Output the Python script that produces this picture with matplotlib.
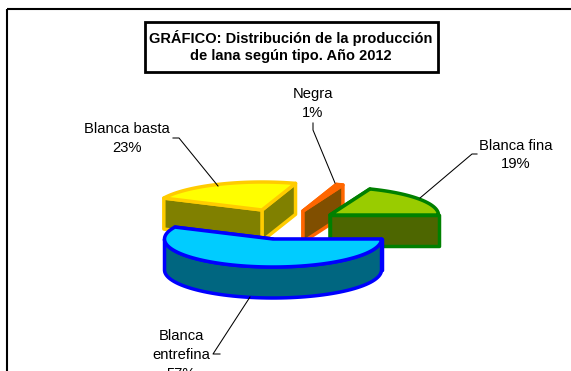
import numpy as np
import matplotlib
matplotlib.use('Agg')
import matplotlib.pyplot as plt
from matplotlib.patches import Polygon, Rectangle

plt.rcParams['font.family'] = ['Liberation Sans', 'DejaVu Sans']

# Datos del grafico, en el orden horario en que arrancan las porciones
tipos = ['Blanca\nentrefina', 'Blanca basta', 'Negra', 'Blanca fina']
valores = [57, 23, 1, 19]

colores_cara = ['#00CCFF', '#FFFF00', '#FF6600', '#99CC00']
colores_lado = ['#006680', '#808000', '#804F00', '#4D6600']
colores_borde = ['#0000FF', '#FFCC00', '#FF6600', '#008000']

# Vertice de cada porcion una vez separada (pixeles)
vertices = [(273, 239), (262, 210), (303, 211), (330, 215)]
pos_etiquetas = [(181, 355), (127, 138.5), (313, 103.5), (516, 155)]
lineas_guia = [
    [(220, 354), (213, 354), (250, 297)],
    [(173, 138), (179, 138), (218, 186)],
    [(313, 123), (313, 130), (335, 183)],
    [(477, 154), (472, 154), (420, 198)],
]

RX = 108.5
RY = 28
ALTO = 31


def punto(centro, angulo):
    return (centro[0] + RX * np.cos(angulo), centro[1] - RY * np.sin(angulo))


def dibujar_porcion(ax, centro, a_ini, a_fin, cara, lado, borde):
    """Dibuja una porcion 3D entre dos angulos (a_ini > a_fin, sentido horario)."""
    estilo = dict(edgecolor=borde, linewidth=2.5, joinstyle='round')
    arco = np.linspace(a_ini, a_fin, 80)
    borde_arco = [punto(centro, a) for a in arco]

    # Paredes radiales: primero la mas alejada
    paredes = sorted([a_ini, a_fin], key=lambda a: np.sin(a), reverse=True)
    for a in paredes:
        p = punto(centro, a)
        pared = [centro, p, (p[0], p[1] + ALTO), (centro[0], centro[1] + ALTO)]
        ax.add_patch(Polygon(pared, facecolor=lado, **estilo))

    # Canto curvo, solo la parte delantera
    frente = [q for q, a in zip(borde_arco, arco) if np.sin(a) <= 0]
    if frente:
        abajo = [(x, y + ALTO) for x, y in frente[::-1]]
        ax.add_patch(Polygon(frente + abajo, facecolor=lado, **estilo))

    ax.add_patch(Polygon([centro] + borde_arco, facecolor=cara, **estilo))


fig = plt.figure(figsize=(5.71, 3.71), dpi=100)
ax = fig.add_axes([0, 0, 1, 1])
ax.set_xlim(0, 571)
ax.set_ylim(371, 0)
ax.axis('off')

# Marco exterior, se sale por la derecha y por abajo
ax.add_patch(Rectangle((6.5, 9), 600, 400, fill=False, edgecolor='black', linewidth=1.5))

# Angulos a partir de los valores
fracciones = np.cumsum([0] + valores) / sum(valores)
angulos = -2 * np.pi * fracciones

# La porcion grande va delante, se dibuja al final
for i in [1, 2, 3, 0]:
    dibujar_porcion(ax, vertices[i], angulos[i], angulos[i + 1],
                    colores_cara[i], colores_lado[i], colores_borde[i])

for i, guia in enumerate(lineas_guia):
    xs, ys = zip(*guia)
    ax.plot(xs, ys, color='black', linewidth=0.75, zorder=5)
    ax.text(pos_etiquetas[i][0], pos_etiquetas[i][1], f'{tipos[i]}\n{valores[i]}%',
            ha='center', va='center', fontsize=10.6, linespacing=1.42, color='black', zorder=6)

ax.add_patch(Rectangle((144.5, 21.5), 293, 50.5, facecolor='white', edgecolor='black', linewidth=2))
ax.text(291, 46.5, 'GRÁFICO: Distribución de la producción\nde lana según tipo. Año 2012',
        ha='center', va='center', fontsize=10.5, fontweight='bold', linespacing=1.3)

fig.savefig('out.png', dpi=100)
